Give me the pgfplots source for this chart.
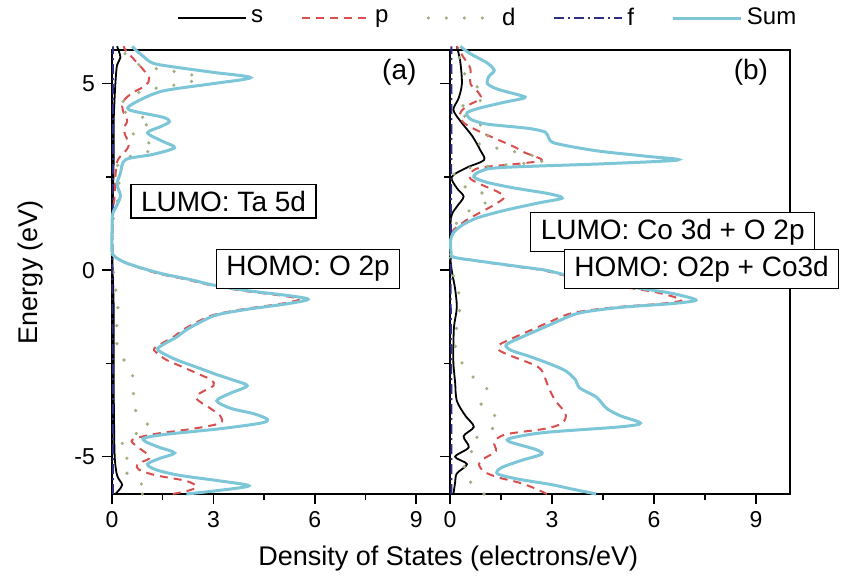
\documentclass[border=0pt]{standalone}
\usepackage{pgfplots}
\pgfplotsset{compat=1.18}
\usepackage{fontspec}
\setmainfont{Liberation Sans}
\definecolor{sumcol}{HTML}{7CC6D8}
\definecolor{pcol}{HTML}{D94F4F}
\definecolor{dcol}{HTML}{A3AE82}
\definecolor{fcol}{HTML}{2E2E7E}

% panel (a): DOS vs energy
\pgfplotstableread{
E dos
-6.00 2.2
-5.90 3.2
-5.78 4.05
-5.65 3.2
-5.50 2.0
-5.35 1.3
-5.20 1.05
-5.05 1.4
-4.90 1.85
-4.75 1.4
-4.60 1.0
-4.50 0.95
-4.40 1.6
-4.25 3.2
-4.10 4.4
-4.00 4.6
-3.85 4.2
-3.70 3.5
-3.50 3.1
-3.30 3.5
-3.10 4.0
-2.95 3.6
-2.80 3.1
-2.60 2.5
-2.40 1.9
-2.20 1.45
-2.10 1.35
-1.95 1.6
-1.80 1.9
-1.60 2.2
-1.40 2.6
-1.20 3.1
-1.05 4.0
-0.90 5.2
-0.78 5.8
-0.68 5.2
-0.55 4.0
-0.40 3.0
-0.25 2.3
-0.10 1.5
0.05 0.9
0.20 0.4
0.35 0.1
0.50 0.0
1.00 0.0
1.50 0.02
1.75 0.15
2.00 0.25
2.30 0.15
2.60 0.25
2.96 0.4
3.10 1.2
3.28 1.85
3.45 1.5
3.68 1.05
3.85 1.45
3.98 1.7
4.10 1.5
4.30 0.5
4.50 0.7
4.80 1.5
5.00 3.0
5.16 4.1
5.30 3.0
5.45 1.8
5.55 1.2
5.75 0.9
5.90 0.7
6.00 0.6
}\sumA
\pgfplotstableread{
E dos
-6.00 1.8
-5.90 2.3
-5.80 2.5
-5.65 2.2
-5.50 1.3
-5.35 0.8
-5.20 0.75
-5.05 1.1
-4.90 1.0
-4.70 0.7
-4.55 0.6
-4.40 1.2
-4.25 2.4
-4.10 3.2
-3.90 3.2
-3.70 2.9
-3.45 2.5
-3.30 2.6
-3.10 3.0
-2.95 2.95
-2.80 2.6
-2.60 2.1
-2.40 1.6
-2.20 1.3
-2.10 1.25
-1.95 1.5
-1.80 1.8
-1.60 2.1
-1.40 2.5
-1.20 3.0
-1.05 3.85
-0.90 5.0
-0.78 5.55
-0.68 5.0
-0.55 3.85
-0.40 2.9
-0.25 2.2
-0.10 1.4
0.05 0.85
0.20 0.38
0.35 0.1
0.50 0.0
1.50 0.02
2.00 0.08
2.50 0.1
2.90 0.15
3.05 0.25
3.25 0.45
3.40 0.5
3.60 0.4
3.80 0.35
4.00 0.45
4.20 0.35
4.40 0.3
4.55 0.35
4.75 0.6
4.95 1.0
5.15 1.1
5.40 0.9
5.60 0.7
5.90 0.4
6.00 0.35
}\pA
\pgfplotstableread{
E dos
-6.00 0.9
-5.85 1.1
-5.70 0.8
-5.50 0.5
-5.25 0.3
-5.10 0.4
-4.90 0.5
-4.70 0.3
-4.50 0.4
-4.35 0.8
-4.20 1.1
-4.00 0.9
-3.60 0.6
-3.20 0.65
-2.80 0.6
-2.40 0.35
-2.00 0.15
-1.20 0.15
-0.80 0.2
-0.50 0.1
0.20 0.02
0.50 0.0
1.50 0.05
2.00 0.2
2.60 0.2
2.96 0.2
3.10 0.8
3.28 1.3
3.45 1.0
3.68 0.6
3.85 0.9
3.98 1.2
4.10 0.9
4.30 0.2
4.50 0.3
4.80 0.9
5.00 2.1
5.16 2.6
5.30 2.0
5.45 1.0
5.60 0.6
5.90 0.3
6.00 0.25
}\dA
\pgfplotstableread{
E dos
-6.00 0.1
-5.90 0.2
-5.75 0.3
-5.50 0.15
-5.00 0.08
-4.00 0.06
-3.00 0.05
-2.00 0.05
-1.00 0.05
0.00 0.02
1.00 0.0
2.00 0.03
3.00 0.05
4.00 0.05
5.00 0.1
5.50 0.15
5.70 0.25
6.00 0.15
}\sA
\pgfplotstableread{
E dos
-6.00 0.03
-3.00 0.03
0.00 0.01
3.00 0.03
6.00 0.03
}\fA

% panel (b)
\pgfplotstableread{
E dos
-6.00 4.3
-5.85 3.5
-5.75 3.0
-5.60 2.0
-5.46 1.4
-5.30 1.5
-5.10 2.1
-4.93 2.7
-4.80 2.5
-4.60 1.75
-4.50 1.8
-4.35 2.8
-4.20 5.0
-4.10 5.6
-3.90 5.0
-3.70 4.6
-3.40 4.3
-3.15 3.8
-2.95 3.7
-2.70 3.4
-2.50 2.9
-2.30 2.3
-2.15 1.8
-2.00 1.65
-1.80 2.1
-1.60 2.6
-1.40 3.1
-1.15 3.8
-1.00 5.0
-0.90 6.5
-0.82 7.2
-0.75 7.1
-0.60 6.4
-0.45 5.3
-0.30 4.3
-0.15 3.5
0.00 2.8
0.10 2.0
0.25 0.8
0.35 0.1
0.50 0.03
0.80 0.02
1.00 0.1
1.20 0.35
1.40 0.8
1.60 1.6
1.80 2.6
1.93 3.3
2.05 2.9
2.20 1.9
2.35 1.1
2.50 0.7
2.65 0.9
2.75 1.5
2.85 4.5
2.95 6.7
3.05 5.8
3.20 4.3
3.40 3.1
3.55 2.9
3.70 2.8
3.80 2.3
3.90 1.2
3.95 0.9
4.05 0.6
4.22 0.5
4.35 0.9
4.50 1.6
4.62 2.2
4.70 2.0
4.85 1.4
5.00 1.1
5.20 1.15
5.35 1.3
5.55 1.1
5.80 0.6
6.00 0.3
}\sumB
\pgfplotstableread{
E dos
-6.00 2.85
-5.85 2.5
-5.70 2.05
-5.55 1.4
-5.40 1.0
-5.20 0.85
-5.05 1.0
-4.85 1.35
-4.60 1.3
-4.40 1.65
-4.25 2.8
-4.10 3.3
-3.85 3.4
-3.50 3.1
-3.15 2.9
-2.90 2.8
-2.60 2.6
-2.30 1.8
-2.15 1.45
-2.00 1.45
-1.80 1.9
-1.60 2.4
-1.40 2.9
-1.15 3.6
-1.00 4.8
-0.90 6.2
-0.82 6.8
-0.75 6.7
-0.60 6.1
-0.45 5.1
-0.30 4.2
-0.15 3.4
0.00 2.7
0.10 1.9
0.25 0.75
0.35 0.1
0.50 0.0
1.00 0.05
1.15 0.2
1.35 0.5
1.55 0.9
1.75 1.3
1.95 1.6
2.10 1.4
2.30 0.9
2.45 0.6
2.60 0.6
2.75 0.9
2.85 2.0
2.95 2.7
3.15 2.2
3.30 1.9
3.50 1.4
3.70 0.9
3.95 0.4
4.20 0.3
4.40 0.5
4.60 0.9
4.80 0.8
5.00 0.6
5.40 0.6
5.70 0.4
6.00 0.2
}\pB
\pgfplotstableread{
E dos
-6.00 1.0
-5.80 0.8
-5.60 0.5
-5.30 0.4
-5.00 0.65
-4.60 0.6
-4.35 1.1
-4.20 1.3
-4.00 1.45
-3.70 1.0
-3.50 0.9
-3.20 1.1
-2.80 0.6
-2.40 0.3
-2.00 0.15
-1.50 0.2
-0.80 0.3
0.00 0.05
0.50 0.0
1.00 0.05
1.50 0.4
1.93 1.2
2.30 0.3
2.70 0.3
2.95 2.8
3.40 0.8
3.70 1.2
4.30 0.2
4.62 1.0
5.30 0.4
5.50 0.4
6.00 0.05
}\dB
\pgfplotstableread{
E dos
-6.00 0.1
-5.70 0.15
-5.45 0.2
-5.20 0.5
-5.00 0.15
-4.75 0.55
-4.45 0.4
-4.20 0.7
-3.90 0.45
-3.50 0.2
-3.00 0.15
-2.50 0.1
-2.00 0.1
-1.50 0.12
-1.00 0.2
-0.50 0.15
0.00 0.05
0.50 0.0
1.40 0.03
1.70 0.2
1.97 0.4
2.20 0.2
2.50 0.05
2.75 0.5
2.95 1.0
3.20 0.9
3.60 0.65
4.00 0.3
4.30 0.1
4.60 0.25
5.00 0.35
5.60 0.3
6.00 0.2
}\sB
\pgfplotstableread{
E dos
-6.00 0.04
-3.00 0.04
0.00 0.02
3.00 0.04
6.00 0.04
}\fB

\pgfplotsset{
  dosaxis/.style={
    scale only axis,
    height=222pt,
    xmin=0, xmax=10, ymin=-6, ymax=5.9,
    xtick={0,3,6,9}, ytick={-5,0,5},
    minor xtick={1.5,4.5,7.5}, minor ytick={-2.5,2.5},
    xtick pos=bottom, ytick pos=left,
    tick align=outside,
    major tick length=5pt, minor tick length=3pt,
    axis line style={line width=0.9pt},
    every tick/.style={black, line width=0.8pt},
    tick label style={font=\fontsize{11.5}{13}\selectfont},
    /pgf/number format/assume math mode=true,
    clip=false,
  },
}
\tikzset{
  scurve/.style={black, line width=0.9pt},
  pcurve/.style={pcol, line width=1pt, dash pattern=on 4pt off 3pt},
  dcurve/.style={dcol, line width=1.8pt, line cap=round, dash pattern=on 0pt off 9pt},
  fcurve/.style={fcol, line width=0.9pt, dash pattern=on 5pt off 2pt on 1pt off 2pt},
  sumcurve/.style={sumcol, line width=1.5pt},
  annot/.style={draw=black, line width=0.6pt, fill=white, font=\fontsize{14}{16}\selectfont, inner xsep=5pt, minimum height=16pt},
}

\begin{document}
\begin{tikzpicture}
\useasboundingbox (-56pt,-42.5pt) rectangle (371.5pt,247pt);
\begin{axis}[dosaxis, name=a, width=169pt, at={(0,0)}, anchor=south west,
  ylabel={Energy (eV)},
  ylabel style={font=\fontsize{13.5}{15}\selectfont, at={(axis description cs:-0.24,0.5)}, anchor=center},
  legend columns=5,
  legend style={draw=none, fill=none, at={(1.115,1.072)}, anchor=center,
    font=\fontsize{12}{14}\selectfont,
    /tikz/every even column/.append style={column sep=17pt}},
  legend image code/.code={\draw[#1] (0pt,0pt) -- (34pt,0pt);},
]
\addplot[scurve, smooth, tension=0.5] table[x=dos, y=E] {\sA};
\addlegendentry{s}
\addplot[pcurve, smooth, tension=0.5] table[x=dos, y=E] {\pA};
\addlegendentry{p}
\addplot[dcurve, smooth, tension=0.5] table[x=dos, y=E] {\dA};
\addlegendentry{d}
\addplot[fcurve, smooth, tension=0.5] table[x=dos, y=E] {\fA};
\addlegendentry{f}
\addplot[sumcurve, smooth, tension=0.5] table[x=dos, y=E] {\sumA};
\addlegendentry{Sum}
\node[annot] at (axis cs:3.3,1.85) {LUMO: Ta 5d};
\node[annot] at (axis cs:5.8,0.03) {HOMO: O 2p};
\node[font=\fontsize{14}{16}\selectfont] at (axis cs:8.5,5.3) {(a)};
\end{axis}
\begin{axis}[dosaxis, name=b, width=170pt, at={(a.south east)}, anchor=south west,
  yticklabels={},
  xlabel={Density of States (electrons/eV)},
  xlabel style={font=\fontsize{13.5}{15}\selectfont, at={(axis description cs:-0.005,-0.145)}, anchor=center},
]
\addplot[scurve, smooth, tension=0.5] table[x=dos, y=E] {\sB};
\addplot[pcurve, smooth, tension=0.5] table[x=dos, y=E] {\pB};
\addplot[dcurve, smooth, tension=0.5] table[x=dos, y=E] {\dB};
\addplot[fcurve, smooth, tension=0.5] table[x=dos, y=E] {\fB};
\addplot[sumcurve, smooth, tension=0.5] table[x=dos, y=E] {\sumB};
\node[annot] at (axis cs:6.55,1.02) {LUMO: Co 3d + O 2p};
\node[annot] at (axis cs:7.4,0.03) {HOMO: O2p + Co3d};
\node[font=\fontsize{14}{16}\selectfont] at (axis cs:8.85,5.3) {(b)};
\end{axis}
\end{tikzpicture}
\end{document}
